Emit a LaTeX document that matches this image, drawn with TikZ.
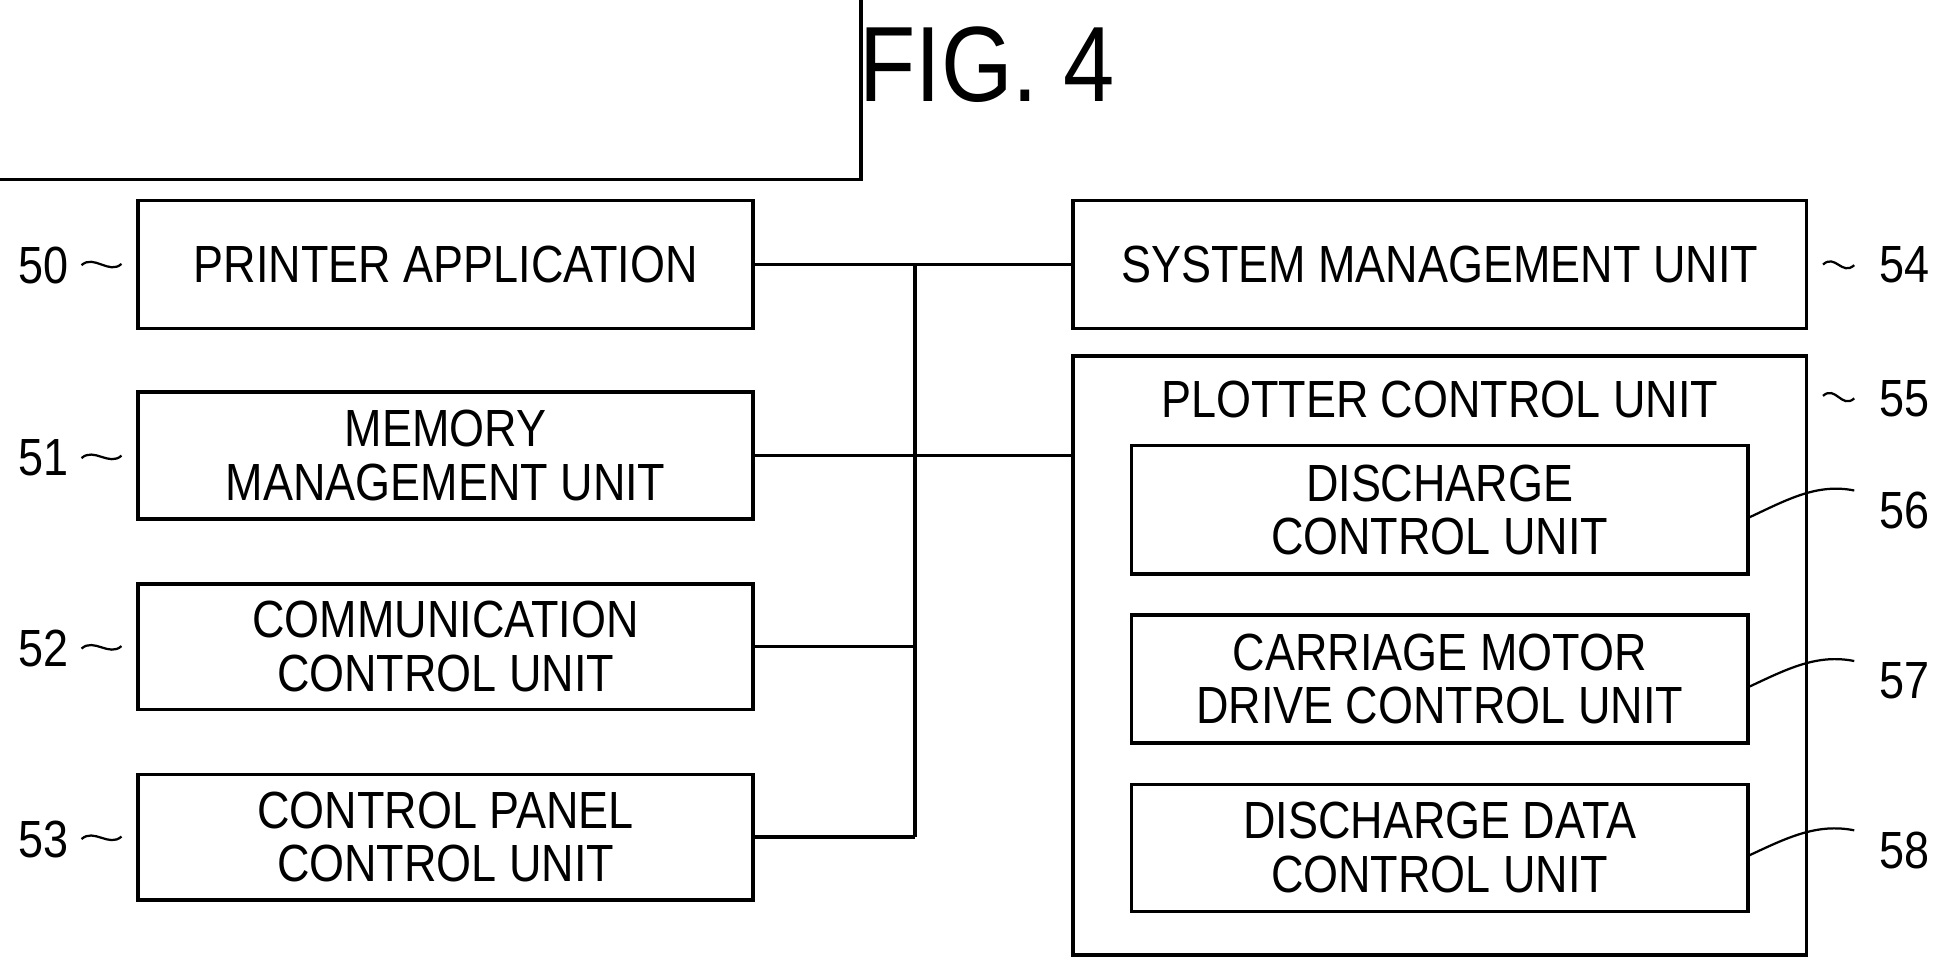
\documentclass[tikz,border=0pt]{standalone}
\usepackage{fontspec}
\setmainfont{Liberation Sans}[FakeStretch=0.86]
\begin{document}
\begin{tikzpicture}[x=0.5pt,y=-0.5pt,
  box/.style={draw,line width=1.4pt,inner sep=0pt,align=center,font=\fontsize{21}{21.5}\selectfont},
  lbl/.style={font=\fontsize{21}{21.5}\selectfont,inner sep=0pt},
  ln/.style={line width=1.4pt},
  ld/.style={line width=0.9pt}]
\useasboundingbox (0,0) rectangle (1560,782);
\node[font=\fontsize{43}{43}\selectfont] (title) at (793,52) {FIG. 4};
% left boxes
\node[box,minimum width=494\pgflinewidth,minimum height=103\pgflinewidth] at (0,0) {};
\node[box,minimum width=247pt,minimum height=51.5pt] (b50) at (358,212.5) {PRINTER APPLICATION};
\node[box,minimum width=247pt,minimum height=51pt] (b51) at (358,366) {MEMORY\\MANAGEMENT UNIT};
\node[box,minimum width=247pt,minimum height=50.5pt] (b52) at (358,519.5) {COMMUNICATION\\CONTROL UNIT};
\node[box,minimum width=247pt,minimum height=50.5pt] (b53) at (358,672.5) {CONTROL PANEL\\CONTROL UNIT};
% right
\node[box,minimum width=294.5pt,minimum height=51.5pt] (b54) at (1156.5,212.5) {SYSTEM MANAGEMENT UNIT};
\node[box,minimum width=294.5pt,minimum height=240.5pt] (b55) at (1156.5,526.5) {};
\node[lbl] (t55) at (1156.5,321) {PLOTTER CONTROL UNIT};
\node[box,minimum width=247.5pt,minimum height=51.5pt] (b56) at (1156.5,409.5) {DISCHARGE\\CONTROL UNIT};
\node[box,minimum width=247.5pt,minimum height=51.5pt] (b57) at (1156.5,545.5) {CARRIAGE MOTOR\\DRIVE CONTROL UNIT};
\node[box,minimum width=247.5pt,minimum height=51pt] (b58) at (1156.5,681) {DISCHARGE DATA\\CONTROL UNIT};
% bus
\coordinate (bt) at (735,212.5);
\coordinate (bb) at (735,672.5);
\draw[ln] (bt) -- (bb);
\draw[ln] (b50.east) -- (b54.west);
\draw[ln] (b51.east) -- (b51.east -| b55.west);
\draw[ln] (b52.east) -- (b52.east -| bb);
\draw[ln] (b53.east) -- (bb);
% labels
\node[lbl] (l50) at (35,213) {50};
\node[lbl] (l51) at (35,368) {51};
\node[lbl] (l52) at (35,521) {52};
\node[lbl] (l53) at (35,674) {53};
\node[lbl] (l54) at (1530,213) {54};
\node[lbl] (l55) at (1530,320) {55};
\node[lbl] (l56) at (1530,410) {56};
\node[lbl] (l57) at (1530,547) {57};
\node[lbl] (l58) at (1530,683) {58};
\foreach \n/\y in {50/212,51/366,52/519,53/672}{
  \draw[ld] (l\n.east)++(10,0) .. controls +(10,-9) and +(-10,9) .. ([xshift=-6]b\n.west |- 0,\y);
}
\draw[ld] ([xshift=6]b54.east) .. controls +(10,-9) and +(-10,9) .. ([xshift=-10]l54.west);
\draw[ld] ([xshift=6]b55.east |- 0,318) .. controls +(10,-9) and +(-10,9) .. ([xshift=-10]l55.west);
\foreach \n in {56,57,58}{
  \draw[ld] ([yshift=-3]b\n.east) .. controls +(30,-14) and +(-30,-6) .. ([xshift=-10,yshift=8]l\n.west);
}
\end{tikzpicture}
\end{document}
